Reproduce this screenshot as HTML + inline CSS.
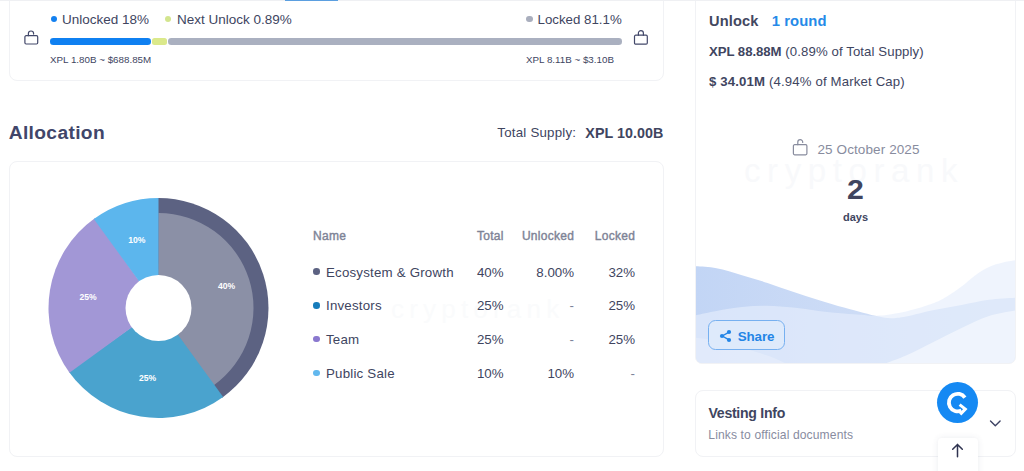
<!DOCTYPE html>
<html>
<head>
<meta charset="utf-8">
<title>Allocation</title>
<style>
html,body{margin:0;padding:0;}
body{width:1024px;height:471px;overflow:hidden;background:#fff;position:relative;font-family:"Liberation Sans",sans-serif;color:#40455f;}
.t{position:absolute;white-space:nowrap;line-height:1;}
.b{font-weight:bold;}
.g{color:#7d8399;}
.card{position:absolute;border:1px solid #f1f2f5;border-radius:8px;background:#fff;box-sizing:border-box;}
.dot{position:absolute;border-radius:50%;}
.r{text-align:right;}
.hd{font-size:12px;-webkit-text-stroke:0.4px #7e8396;letter-spacing:0.3px;color:#7e8396;}
.rw{font-size:13.3px;}
</style>
</head>
<body>

<!-- top card (cut off at top) -->
<div class="card" style="left:9px;top:-30px;width:655px;height:111px;"></div>


<!-- open lock left -->
<svg style="position:absolute;left:22px;top:28px;" width="20" height="20" viewBox="0 0 20 20" fill="none" stroke="#43486a" stroke-width="1.2" stroke-linecap="round" stroke-linejoin="round">
  <rect x="2.9" y="7.7" width="12.8" height="8.3" rx="1.2"/>
  <path d="M6.4 7.7V5.6a2.6 2.6 0 0 1 5.2 0v0.5"/>
</svg>

<div class="dot" style="left:50.7px;top:16.1px;width:6.3px;height:6.3px;background:#1380f0;"></div>
<div class="t" id="t1" style="left:62px;top:13px;font-size:13.5px;">Unlocked 18%</div>
<div class="dot" style="left:165.2px;top:16.1px;width:6.3px;height:6.3px;background:#d3e58e;"></div>
<div class="t" id="t2" style="left:177px;top:13px;font-size:13.5px;">Next Unlock 0.89%</div>
<div class="dot" style="left:526.3px;top:16.1px;width:6.3px;height:6.3px;background:#a9aebd;"></div>
<div class="t" id="t3" style="left:537.5px;top:13px;font-size:13.3px;">Locked 81.1%</div>

<!-- progress bar -->
<div style="position:absolute;left:168.2px;top:38.1px;width:453.5px;height:6.6px;border-radius:3.3px;background:#aab0c0;"></div>
<div style="position:absolute;left:152px;top:38.1px;width:15.3px;height:6.6px;border-radius:2.5px;background:#dbe98b;"></div>
<div style="position:absolute;left:50.3px;top:38.1px;width:100.8px;height:6.6px;border-radius:3.3px;background:#0f80f1;"></div>

<div class="t" id="t4" style="left:50px;top:55px;font-size:9.8px;">XPL 1.80B ~ $688.85M</div>
<div class="t" id="t5" style="left:526px;top:55px;font-size:9.8px;">XPL 8.11B ~ $3.10B</div>

<!-- closed lock right -->
<svg style="position:absolute;left:631px;top:27px;" width="20" height="20" viewBox="0 0 20 20" fill="none" stroke="#43486a" stroke-width="1.2" stroke-linecap="round" stroke-linejoin="round">
  <rect x="3.5" y="8.2" width="12.8" height="9" rx="1.2"/>
  <path d="M7.4 8.2V6.1a2.5 2.5 0 0 1 5 0V8.2"/>
</svg>

<!-- Allocation header -->
<div class="t b" id="t6" style="left:8.7px;top:123.2px;font-size:19.2px;letter-spacing:0.36px;color:#41466a;">Allocation</div>
<div class="t" id="t7" style="left:497.3px;top:125.8px;font-size:13.3px;letter-spacing:0.22px;">Total Supply:</div>
<div class="t b" id="t8" style="left:585.3px;top:125.5px;font-size:14.3px;letter-spacing:0.05px;">XPL 10.00B</div>

<!-- allocation card -->
<div class="card" style="left:9px;top:161px;width:655px;height:296px;"></div>

<!-- pie -->
<svg id="pie" style="position:absolute;left:40px;top:190px;" width="240" height="240" viewBox="40 190 240 240">
  <!-- center 158.5,308 R110 r33 -->
  <path id="p40d" d="M158.5 308 L157.35 198.01 A110 110 0 0 1 222.22 397.66 Z" fill="#5c6282"/>
  <path id="p40l" d="M158.5 308 L158.50 213.00 A95 95 0 0 1 213.53 385.44 Z" fill="#8b90a6"/>
  <path id="p25a" d="M158.5 308 L223.16 396.99 A110 110 0 0 1 68.84 371.72 Z" fill="#4aa3ce"/>
  <path id="p25b" d="M158.5 308 L69.51 372.66 A110 110 0 0 1 94.78 218.34 Z" fill="#a297d6"/>
  <path id="p10" d="M158.5 308 L93.84 219.01 A110 110 0 0 1 158.50 198.00 Z" fill="#5cb6ed"/>
  <circle cx="158.5" cy="308" r="33" fill="#fff"/>
  <g font-family="Liberation Sans, sans-serif" font-weight="bold" font-size="8.6" fill="#fff" text-anchor="middle">
    <text x="226.5" y="289.3">40%</text>
    <text x="147.5" y="381">25%</text>
    <text x="88" y="300">25%</text>
    <text x="136.8" y="243">10%</text>
  </g>
</svg>

<div class="t" style="left:391px;top:296px;font-size:26px;letter-spacing:5.2px;color:#fafbfc;">cryptorank</div>
<!-- table -->
<div class="t g hd" id="h1" style="left:313px;top:229.5px;">Name</div>
<div class="t g r hd" id="h2" style="right:520.2px;top:229.5px;">Total</div>
<div class="t g r hd" id="h3" style="right:449.7px;top:229.5px;">Unlocked</div>
<div class="t g r hd" id="h4" style="right:388.7px;top:229.5px;">Locked</div>

<div class="dot" style="left:313.2px;top:268.4px;width:6.6px;height:6.6px;background:#5c6282;"></div>
<div class="t" id="r1" style="letter-spacing:0.2px;left:326px;top:265.5px;font-size:13.3px;">Ecosystem &amp; Growth</div>
<div class="t r" style="right:520.5px;top:265.5px;font-size:13.3px;">40%</div>
<div class="t r" style="right:450px;top:265.5px;font-size:13.3px;">8.00%</div>
<div class="t r" style="right:389px;top:265.5px;font-size:13.3px;">32%</div>

<div class="dot" style="left:313.2px;top:302.1px;width:6.6px;height:6.6px;background:#167cbb;"></div>
<div class="t" id="r2" style="letter-spacing:0.2px;left:326px;top:299.2px;font-size:13.3px;">Investors</div>
<div class="t r" style="right:520.5px;top:299.2px;font-size:13.3px;">25%</div>
<div class="t r g" style="right:450px;top:299.2px;font-size:13.3px;">-</div>
<div class="t r" style="right:389px;top:299.2px;font-size:13.3px;">25%</div>

<div class="dot" style="left:313.2px;top:335.8px;width:6.6px;height:6.6px;background:#8a78cf;"></div>
<div class="t" id="r3" style="letter-spacing:0.2px;left:326px;top:332.9px;font-size:13.3px;">Team</div>
<div class="t r" style="right:520.5px;top:332.9px;font-size:13.3px;">25%</div>
<div class="t r g" style="right:450px;top:332.9px;font-size:13.3px;">-</div>
<div class="t r" style="right:389px;top:332.9px;font-size:13.3px;">25%</div>

<div class="dot" style="left:313.2px;top:369.5px;width:6.6px;height:6.6px;background:#62b8ee;"></div>
<div class="t" id="r4" style="letter-spacing:0.2px;left:326px;top:366.6px;font-size:13.3px;">Public Sale</div>
<div class="t r" style="right:520.5px;top:366.6px;font-size:13.3px;">10%</div>
<div class="t r" style="right:450px;top:366.6px;font-size:13.3px;">10%</div>
<div class="t r g" style="right:389px;top:366.6px;font-size:13.3px;">-</div>

<!-- right card -->
<div class="card" id="rc" style="left:695px;top:-20px;width:321px;height:384px;border-radius:7px;overflow:hidden;">
  <svg style="position:absolute;left:0;top:0;" width="321" height="384" viewBox="695 -20 321 384" preserveAspectRatio="none">
    <defs>
      <linearGradient id="gA" x1="0" y1="0" x2="1" y2="0">
        <stop offset="0" stop-color="#c2d5f5"/><stop offset="0.5" stop-color="#cddcf6"/><stop offset="1" stop-color="#d3e1f7"/>
      </linearGradient>
    </defs>
    <path d="M694.0 265.3 C697.6 265.6 707.7 265.8 715.5 267.3 C723.3 268.8 732.5 271.8 741.0 274.2 C749.5 276.6 758.0 279.1 766.5 281.9 C775.0 284.7 783.5 287.9 792.0 290.8 C800.5 293.7 808.9 296.4 817.4 299.0 C825.9 301.6 835.6 304.5 843.0 306.6 C850.4 308.7 856.2 310.3 862.0 311.8 C867.8 313.3 873.3 314.7 878.0 315.6 C882.7 316.5 885.5 317.2 890.0 317.2 C894.5 317.2 897.8 316.9 905.0 315.5 C912.2 314.1 923.8 310.9 933.0 309.0 C942.2 307.1 951.3 305.7 960.5 304.0 C969.7 302.3 978.6 300.0 988.0 298.8 C997.4 297.6 1012.2 297.0 1017.0 296.6 L1017 365 L694 365 Z" fill="url(#gA)"/>
    <path d="M694.0 314.4 C697.6 313.6 707.7 311.3 715.5 309.9 C723.3 308.5 732.5 306.9 741.0 306.0 C749.5 305.1 758.0 304.7 766.5 304.8 C775.0 304.9 783.5 305.8 792.0 306.6 C800.5 307.5 808.9 308.9 817.4 309.9 C825.9 310.9 835.9 311.8 843.0 312.4 C850.1 313.0 854.2 313.3 860.0 313.7 C865.8 314.1 870.1 315.2 877.6 314.6 C885.1 314.1 895.8 312.5 905.0 310.4 C914.2 308.3 926.0 304.6 933.0 302.0 C940.0 299.4 942.1 297.7 946.7 295.0 C951.3 292.3 956.0 289.0 960.5 285.6 C965.0 282.2 969.4 277.8 974.0 274.5 C978.6 271.2 983.3 268.2 988.0 266.0 C992.7 263.8 997.2 262.7 1002.0 261.5 C1006.8 260.3 1014.5 259.2 1017.0 258.8 L1017 365 L694 365 Z" fill="#e6eefc" fill-opacity="0.64"/>
    <path d="M694.0 336.6 C697.6 337.1 707.7 338.0 715.5 339.7 C723.3 341.4 732.5 344.3 741.0 346.8 C749.5 349.3 759.3 352.0 766.5 354.5 C773.7 357.0 780.1 360.2 784.0 362.0 C787.9 363.8 789.0 364.5 790.0 365.0 L694 365 Z" fill="#ffffff" fill-opacity="0.22"/>
    <path d="M880.0 365.0 C880.5 364.7 878.8 364.7 883.0 363.0 C887.2 361.3 896.7 358.3 905.0 354.6 C913.3 350.9 923.8 345.4 933.0 340.8 C942.2 336.2 951.3 331.3 960.5 327.0 C969.7 322.7 978.6 318.0 988.0 315.0 C997.4 312.0 1012.2 310.0 1017.0 309.0 L1017 365 Z" fill="#ffffff" fill-opacity="0.5"/>
  </svg>
</div>

<div class="t b" id="u1" style="left:709px;top:14.1px;font-size:14.6px;letter-spacing:0.15px;color:#43485f;">Unlock</div>
<div class="t b" id="u2" style="left:771.7px;top:14.1px;font-size:14.8px;letter-spacing:0.08px;color:#258ae8;">1 round</div>
<div class="t" id="u3" style="left:709px;top:45px;font-size:13.2px;letter-spacing:0.1px;"><b style="letter-spacing:-0.05px">XPL 88.88M</b> (0.89% of Total Supply)</div>
<div class="t" id="u4" style="left:709px;top:75px;font-size:13.2px;letter-spacing:0.15px;"><b>$ 34.01M</b> (4.94% of Market Cap)</div>

<!-- watermark -->
<div class="t" style="left:744px;top:154px;font-size:33px;letter-spacing:6.6px;color:#f8f9fb;">cryptorank</div>

<!-- date -->
<svg style="position:absolute;left:790px;top:137px;" width="20" height="20" viewBox="0 0 20 20" fill="none" stroke="#888c9e" stroke-width="1.2" stroke-linecap="round" stroke-linejoin="round">
  <rect x="3.4" y="7.7" width="13.5" height="10.1" rx="1.2"/>
  <path d="M7.8 7.7V5.05a2.45 2.45 0 0 1 4.9 0v0.4"/>
</svg>
<div class="t g" id="d1" style="left:817.5px;top:142.9px;font-size:13.5px;letter-spacing:0.1px;color:#888c9e;">25 October 2025</div>
<div class="t b" id="d2" style="left:847px;top:176.3px;font-size:28px;transform:scaleX(1.08);transform-origin:left;">2</div>
<div class="t b" id="d3" style="left:843px;top:211.8px;font-size:11px;">days</div>

<!-- share button -->
<div style="position:absolute;left:708px;top:320.2px;width:76.8px;height:30px;box-sizing:border-box;border:1px solid #76b0f0;border-radius:7.5px;background:#deeafb;"></div>
<svg style="position:absolute;left:717.7px;top:327.7px;" width="16" height="16" viewBox="0 0 16 16">
  <g stroke="#2385e6" stroke-width="1.4" fill="none"><path d="M10.6 4.3 4.3 8l6.3 3.7"/></g>
  <circle cx="11" cy="4" r="2.1" fill="#2385e6"/><circle cx="4" cy="8" r="2.1" fill="#2385e6"/><circle cx="11" cy="12" r="2.1" fill="#2385e6"/>
</svg>
<div class="t b" id="s1" style="left:737.8px;top:329.8px;font-size:13.4px;letter-spacing:-0.15px;color:#2385e6;">Share</div>

<!-- vesting card -->
<div class="card" style="left:695px;top:390px;width:321px;height:67px;"></div>
<div class="t b" id="v1" style="left:708.5px;top:406.2px;font-size:14.1px;letter-spacing:-0.28px;">Vesting Info</div>
<div class="t" id="v2" style="left:708.3px;top:428.8px;font-size:12.1px;letter-spacing:0.12px;color:#888c9f;">Links to official documents</div>
<svg style="position:absolute;left:988px;top:417px;" width="14" height="12" viewBox="0 0 14 12" fill="none" stroke="#3d4263" stroke-width="1.4" stroke-linecap="round" stroke-linejoin="round"><path d="M2.5 3.9 7.3 8.7 12.1 3.9"/></svg>

<!-- scroll top box -->
<div style="position:absolute;left:938px;top:437.5px;width:39.5px;height:40px;background:#fff;border-radius:4px;box-shadow:0 0 6px rgba(60,70,100,0.10);"></div>
<svg style="position:absolute;left:949px;top:442px;" width="17" height="17" viewBox="0 0 17 17" fill="none" stroke="#2f3350" stroke-width="1.5" stroke-linecap="round" stroke-linejoin="round"><path d="M8.5 14.8V2.6M3.7 7.3 8.5 2.4 13.3 7.3"/></svg>

<!-- blue circle -->
<div style="position:absolute;left:937px;top:381.5px;width:41.4px;height:41.4px;border-radius:50%;background:#1589f3;"></div>
<svg style="position:absolute;left:936.8px;top:381.7px;" width="41" height="41" viewBox="0 0 41 41" fill="none" stroke="#fff">
  <path d="M27.91 15.55 A8.8 8.8 0 1 0 24.43 28.57" stroke-width="3.8"/>
  <path d="M22.6 22.6 28.3 27.1 23.2 32.4" stroke-width="3" stroke-linejoin="miter"/>
</svg>

<div style="position:absolute;left:0;top:0;width:1024px;height:1px;background:#eff0f3;"></div>
<div style="position:absolute;left:285px;top:0;width:53px;height:1.4px;background:#5b9fe0;"></div>
</body>
</html>
